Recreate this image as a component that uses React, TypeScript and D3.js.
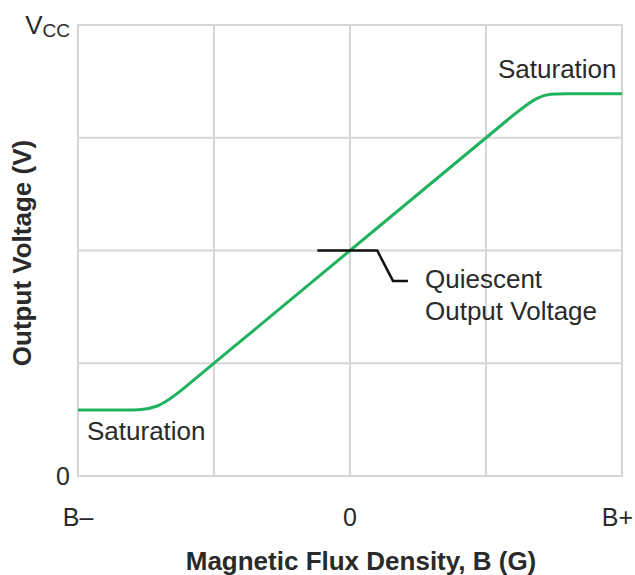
import React, { useEffect, useRef } from "react";
import * as d3 from "d3";

// transfer curve, B from B- (-2) to B+ (2), output from 0 to Vcc (4)
const fluxValues = [-2, -1.65, -1.415, -1.2, -1, 0, 1, 1.15, 1.39, 1.55, 2];
const outputValues = [0.585, 0.585, 0.585, 0.8, 1, 2, 3, 3.15, 3.39, 3.39, 3.39];

const xTickValues = [-2, 0, 2];
const xTickLabels = ["B\u2013", "0", "B+"];
const gridX = [-1, 0, 1];
const gridY = [1, 2, 3];

// leader line for the quiescent point label
const leaderX = [-0.24, 0.2, 0.316, 0.426];
const leaderY = [2, 2, 1.73, 1.73];

export default function App() {
  const ref = useRef<SVGSVGElement>(null);

  useEffect(() => {
    const width = 635;
    const height = 575;
    const margin = { top: 25, right: 13, bottom: 99, left: 78 };

    const svg = d3.select(ref.current);
    svg.selectAll("*").remove();

    const x = d3.scaleLinear().domain([-2, 2]).range([margin.left, width - margin.right]);
    const y = d3.scaleLinear().domain([0, 4]).range([height - margin.bottom, margin.top]);

    const font = "'Liberation Sans', Arial, sans-serif";
    const textColor = "#2a2a2a";
    const gridColor = "#d6d6d6";

    // grid
    svg.selectAll(".gx")
      .data(gridX)
      .enter()
      .append("line")
      .attr("x1", d => x(d))
      .attr("x2", d => x(d))
      .attr("y1", y(4))
      .attr("y2", y(0))
      .attr("stroke", gridColor)
      .attr("stroke-width", 2);

    svg.selectAll(".gy")
      .data(gridY)
      .enter()
      .append("line")
      .attr("x1", x(-2))
      .attr("x2", x(2))
      .attr("y1", d => y(d))
      .attr("y2", d => y(d))
      .attr("stroke", gridColor)
      .attr("stroke-width", 2);

    // frame
    svg.append("rect")
      .attr("x", x(-2))
      .attr("y", y(4))
      .attr("width", x(2) - x(-2))
      .attr("height", y(0) - y(4))
      .attr("fill", "none")
      .attr("stroke", gridColor)
      .attr("stroke-width", 2);

    // curve
    const pts = fluxValues.map((v, i) => [v, outputValues[i]] as [number, number]);
    const line = d3.line<[number, number]>()
      .x(d => x(d[0]))
      .y(d => y(d[1]))
      .curve(d3.curveBasis);

    svg.append("path")
      .attr("d", line(pts))
      .attr("fill", "none")
      .attr("stroke", "#1fb35e")
      .attr("stroke-width", 3);

    // leader
    const leader = leaderX.map((v, i) => [v, leaderY[i]] as [number, number]);
    svg.append("path")
      .attr("d", d3.line<[number, number]>().x(d => x(d[0])).y(d => y(d[1]))(leader))
      .attr("fill", "none")
      .attr("stroke", "#111")
      .attr("stroke-width", 2.5);

    const txt = (tx: number, ty: number, s: string, anchor = "start", size = 26, weight = "normal") =>
      svg.append("text")
        .attr("x", tx)
        .attr("y", ty)
        .attr("text-anchor", anchor)
        .attr("font-family", font)
        .attr("font-size", size)
        .attr("font-weight", weight)
        .attr("fill", textColor)
        .text(s);

    // x tick labels (the end ones sit inward a little so B+ fits)
    xTickValues.forEach((v, i) => {
      const anchor = i === xTickValues.length - 1 ? "end" : "middle";
      const tx = i === xTickValues.length - 1 ? x(v) + 11 : x(v);
      txt(tx, 526, xTickLabels[i], anchor, 25);
    });

    // y tick labels
    txt(70, y(0) + 9, "0", "end", 25);
    const vcc = svg.append("text")
      .attr("x", 70)
      .attr("y", 34)
      .attr("text-anchor", "end")
      .attr("font-family", font)
      .attr("fill", textColor);
    vcc.append("tspan").attr("font-size", 26).text("V");
    vcc.append("tspan").attr("font-size", 19).attr("dy", 3).text("CC");

    // annotations
    txt(498, 78, "Saturation");
    txt(87, 440, "Saturation");
    txt(425, 288, "Quiescent");
    txt(425, 320, "Output Voltage");

    // axis titles
    txt(361, 570, "Magnetic Flux Density, B (G)", "middle", 26, "bold");
    svg.append("text")
      .attr("transform", `translate(31,${253}) rotate(-90)`)
      .attr("text-anchor", "middle")
      .attr("font-family", font)
      .attr("font-size", 26)
      .attr("font-weight", "bold")
      .attr("fill", textColor)
      .text("Output Voltage (V)");
  }, []);

  return (
    <svg
      ref={ref}
      width={635}
      height={575}
      style={{ position: "absolute", left: 0, top: 0, background: "#fff" }}
    />
  );
}
